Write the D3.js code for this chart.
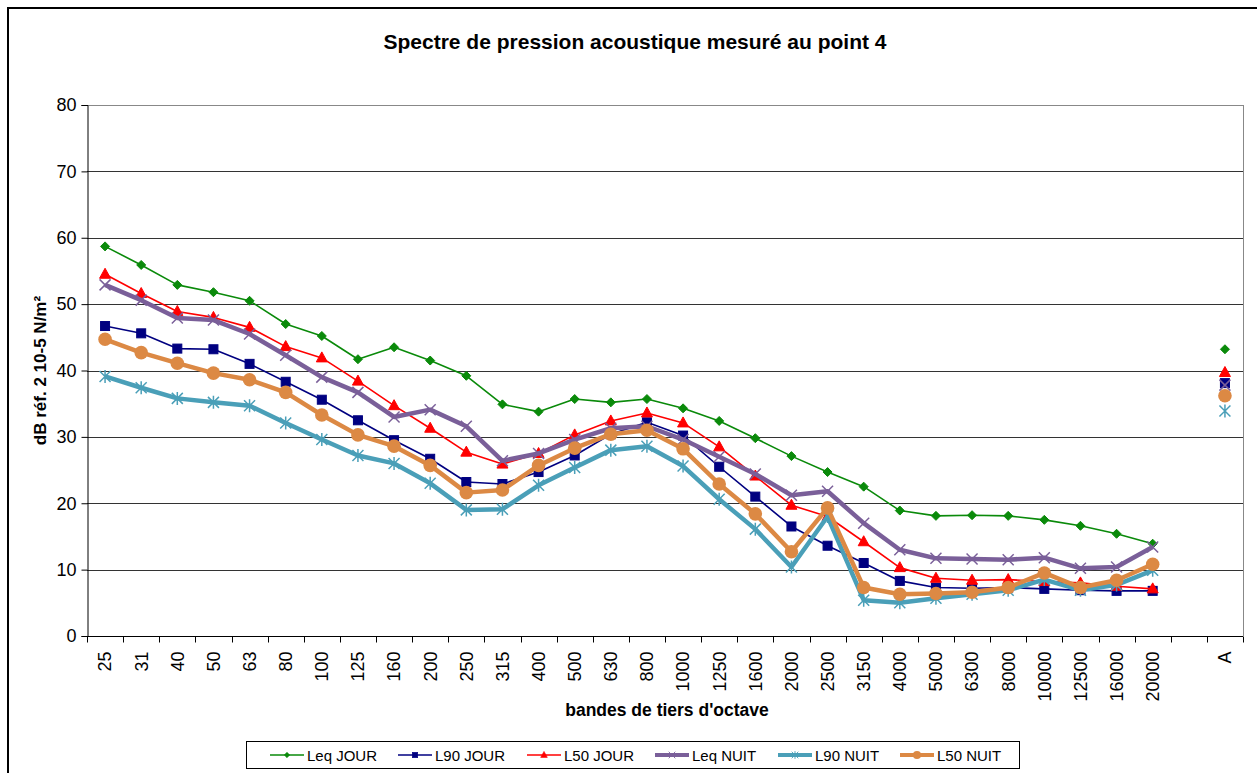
<!DOCTYPE html>
<html><head><meta charset="utf-8">
<script src="https://cdn.jsdelivr.net/npm/d3@7"></script>
<style>body{margin:0;background:#fff}svg{display:block}text{font-family:"Liberation Sans",Arial,sans-serif}</style>
</head><body><svg id="c" width="1257" height="773"></svg>
<script>
const categories = ["25","31","40","50","63","80","100","125","160","200","250","315","400","500","630","800","1000","1250","1600","2000","2500","3150","4000","5000","6300","8000","10000","12500","16000","20000"," ","A"];
const yTicks = [0,10,20,30,40,50,60,70,80];
const leqJour = [58.7,55.9,52.9,51.8,50.5,47.0,45.2,41.7,43.5,41.5,39.2,34.9,33.8,35.7,35.2,35.7,34.3,32.4,29.8,27.1,24.7,22.5,18.9,18.1,18.2,18.1,17.5,16.6,15.4,13.9,null,43.2];
const l90Jour = [46.7,45.6,43.3,43.2,41.0,38.3,35.6,32.5,29.5,26.7,23.2,22.9,24.7,27.2,30.4,32.2,30.2,25.5,21.0,16.5,13.6,11.0,8.3,7.3,7.2,7.3,7.1,6.9,6.8,6.8,null,38.1];
const l50Jour = [54.5,51.6,48.9,48.0,46.5,43.6,41.9,38.4,34.7,31.3,27.7,25.9,27.5,30.3,32.4,33.6,32.1,28.5,24.1,19.7,18.0,14.2,10.3,8.7,8.4,8.5,8.2,8.0,7.5,7.1,null,39.7];
const leqNuit = [52.9,50.6,47.9,47.6,45.5,42.3,39.0,36.7,33.0,34.1,31.6,26.4,27.5,29.6,31.3,31.6,29.6,27.0,24.4,21.2,21.8,17.0,13.0,11.7,11.6,11.5,11.8,10.2,10.4,13.4,null,37.8];
const l90Nuit = [39.1,37.4,35.8,35.2,34.7,32.1,29.6,27.2,26.0,23.0,19.0,19.1,22.7,25.4,28.0,28.6,25.6,20.6,16.1,10.4,18.0,5.4,5.0,5.7,6.3,6.9,8.5,6.9,7.7,9.9,null,33.9];
const l50Nuit = [44.7,42.7,41.1,39.6,38.6,36.7,33.3,30.3,28.6,25.7,21.6,22.0,25.7,28.3,30.4,31.0,28.2,22.9,18.4,12.7,19.3,7.3,6.3,6.4,6.6,7.3,9.5,7.3,8.4,10.8,null,36.2];
const seriesNames = ["Leq JOUR","L90 JOUR","L50 JOUR","Leq NUIT","L90 NUIT","L50 NUIT"];

const series = [
  {name:seriesNames[0], values:leqJour, color:"#0a8a0a", width:1.6, marker:"diamond"},
  {name:seriesNames[1], values:l90Jour, color:"#000080", width:1.6, marker:"square"},
  {name:seriesNames[2], values:l50Jour, color:"#ff0000", width:1.6, marker:"triangle"},
  {name:seriesNames[3], values:leqNuit, color:"#7a5f99", width:4.5, marker:"x"},
  {name:seriesNames[4], values:l90Nuit, color:"#4a9fb8", width:4.5, marker:"star"},
  {name:seriesNames[5], values:l50Nuit, color:"#dc8944", width:4.5, marker:"circle"}
];

const svg = d3.select("#c");
const W=1257,H=773;
const m = {l:87, r:1243, t:105, b:636};
svg.append("rect").attr("width",W).attr("height",H).attr("fill","#fff");
// outer frame
svg.append("rect").attr("x",8).attr("y",8).attr("width",1260).attr("height",800)
  .attr("fill","none").attr("stroke","#000").attr("stroke-width",2);

const x = d3.scaleBand().domain(categories).range([m.l,m.r]).padding(0);
const y = d3.scaleLinear().domain([0,80]).range([m.b,m.t]);
const cx = c => x(c)+x.bandwidth()/2;

// gridlines
svg.append("g").selectAll("line").data(yTicks.filter(t=>t>0)).join("line")
  .attr("x1",m.l).attr("x2",m.r).attr("y1",d=>Math.round(y(d))+0.5).attr("y2",d=>Math.round(y(d))+0.5)
  .attr("stroke",d=>d===80?"#888":"#333").attr("stroke-width",1);
// right border
svg.append("line").attr("x1",m.r+0.5).attr("x2",m.r+0.5).attr("y1",m.t).attr("y2",m.b).attr("stroke","#888");

// Y axis
const yAx = svg.append("g").attr("transform",`translate(${m.l+0.5},0)`)
  .call(d3.axisLeft(y).tickValues(yTicks).tickSize(6).tickPadding(5));
yAx.select(".domain").attr("stroke","#000");
yAx.selectAll(".tick line").attr("stroke","#000");
yAx.selectAll("text").attr("font-size",18).attr("fill","#000").style("font-family","Liberation Sans, Arial");

// X axis
const xAx = svg.append("g").attr("transform",`translate(0,${m.b+0.5})`);
xAx.append("line").attr("x1",m.l).attr("x2",m.r).attr("stroke","#000");
xAx.selectAll("line.tk").data(categories.map((c,i)=>i).concat([categories.length])).join("line").attr("class","tk")
  .attr("x1",i=>Math.round(i<categories.length?x(categories[i]):m.r)+0.5)
  .attr("x2",i=>Math.round(i<categories.length?x(categories[i]):m.r)+0.5)
  .attr("y1",0).attr("y2",6).attr("stroke","#000");
xAx.selectAll("text").data(categories.filter(c=>c.trim()!=="")).join("text")
  .attr("transform",c=>`translate(${cx(c)},${15}) rotate(-90)`)
  .attr("text-anchor","end").attr("dy","0.35em").attr("font-size",18).text(c=>c);

// titles
svg.append("text").attr("x",635).attr("y",49).attr("text-anchor","middle")
  .attr("font-size",21).attr("font-weight","bold").text("Spectre de pression acoustique mesuré au point 4");
svg.append("text").attr("transform",`translate(46,${(m.t+m.b)/2}) rotate(-90)`).attr("text-anchor","middle")
  .attr("font-size",17).attr("font-weight","bold").text("dB réf. 2 10-5 N/m²");
svg.append("text").attr("x",(m.l+m.r)/2+2).attr("y",716).attr("text-anchor","middle")
  .attr("font-size",17.5).attr("font-weight","bold").text("bandes de tiers d'octave");

function drawMarker(g, s, px, py){
  const c=s.color;
  switch(s.marker){
    case "diamond": g.append("path").attr("d",`M${px},${py-4.5}L${px+4.5},${py}L${px},${py+4.5}L${px-4.5},${py}Z`).attr("fill",c).attr("stroke",c); break;
    case "square": g.append("rect").attr("x",px-4.5).attr("y",py-4.5).attr("width",9).attr("height",9).attr("fill",c).attr("stroke",c); break;
    case "triangle": g.append("path").attr("d",`M${px},${py-6}L${px+5.5},${py+4}L${px-5.5},${py+4}Z`).attr("fill",c).attr("stroke",c); break;
    case "x": g.append("path").attr("d",`M${px-5.5},${py-5.5}L${px+5.5},${py+5.5}M${px-5.5},${py+5.5}L${px+5.5},${py-5.5}`).attr("stroke",c).attr("stroke-width",1.5).attr("fill","none"); break;
    case "star": g.append("path").attr("d",`M${px-5.5},${py-5.5}L${px+5.5},${py+5.5}M${px-5.5},${py+5.5}L${px+5.5},${py-5.5}M${px},${py-6.5}L${px},${py+6.5}`).attr("stroke",c).attr("stroke-width",1.5).attr("fill","none"); break;
    case "circle": g.append("circle").attr("cx",px).attr("cy",py).attr("r",6.8).attr("fill",c); break;
  }
}

const line = d3.line().defined(d=>d.v!==null).x(d=>cx(d.c)).y(d=>y(d.v));
series.forEach(s=>{
  const pts = categories.map((c,i)=>({c, v:s.values[i]}));
  const g = svg.append("g");
  g.append("path").datum(pts).attr("d",line).attr("fill","none").attr("stroke",s.color)
    .attr("stroke-width",s.width).attr("stroke-linejoin","round");
  pts.filter(p=>p.v!==null).forEach(p=>drawMarker(g,s,cx(p.c),y(p.v)));
});

// legend
const lg = svg.append("g");
lg.append("rect").attr("x",246.5).attr("y",741.5).attr("width",773).attr("height",27).attr("fill","#fff").attr("stroke","#000").attr("stroke-width",1);
const lx = [270,398,527,655,778,900];
series.forEach((s,i)=>{
  const g = lg.append("g");
  g.append("line").attr("x1",lx[i]).attr("x2",lx[i]+34).attr("y1",755).attr("y2",755).attr("stroke",s.color).attr("stroke-width",s.width>2?4:1.6);
  const gm = g.append("g").attr("transform",`translate(${lx[i]+17},755) scale(0.6)`);
  drawMarker(gm, s, 0, 0);
  g.append("text").attr("x",lx[i]+37).attr("y",760.5).attr("font-size",15).text(s.name);
});
</script></body></html>
